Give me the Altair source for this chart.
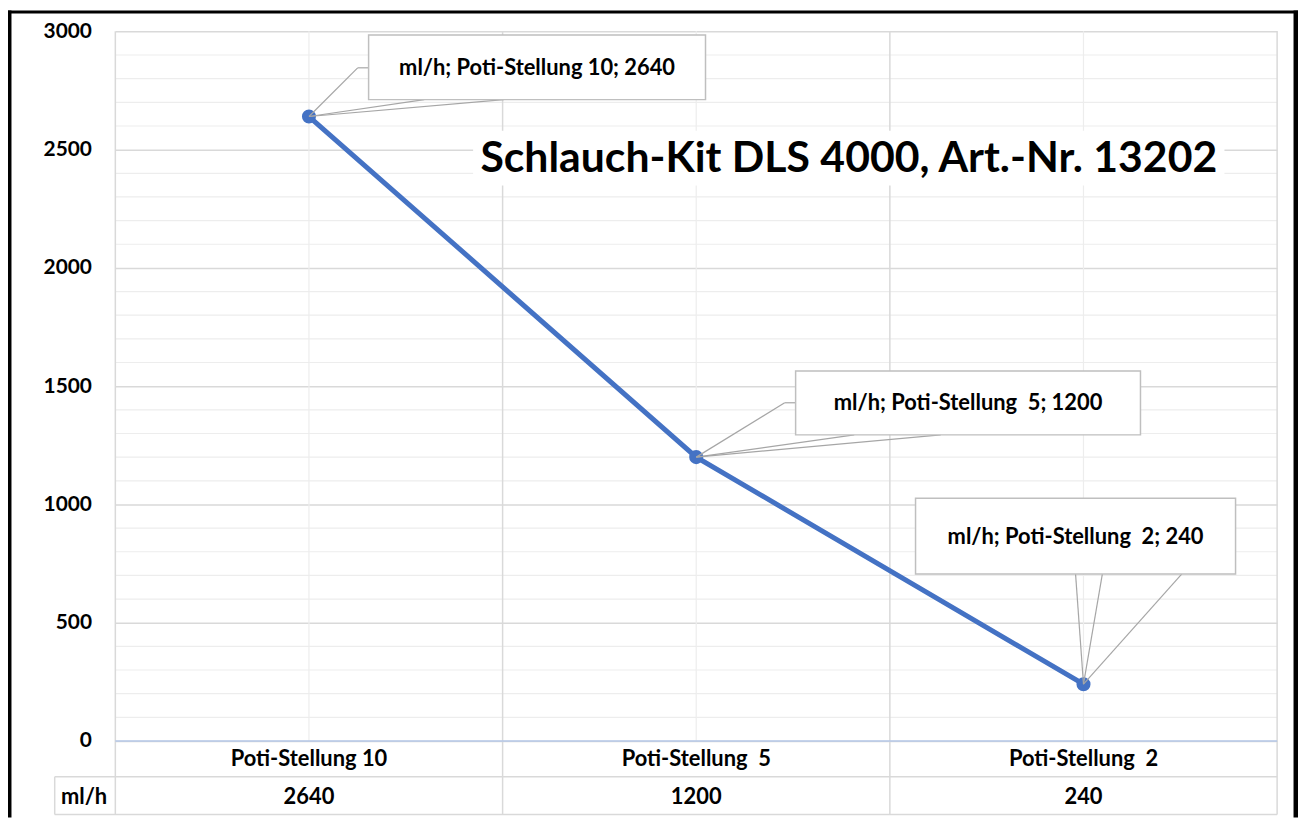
import altair as alt
import pandas as pd

# ---------------- data ----------------
categories = ["Poti-Stellung 10", "Poti-Stellung  5", "Poti-Stellung  2"]
values = [2640, 1200, 240]
row_label = "ml/h"
title_text = "Schlauch-Kit DLS 4000, Art.-Nr. 13202"
y_major = [0, 500, 1000, 1500, 2000, 2500, 3000]
y_minor = [100, 200, 300, 400, 600, 700, 800, 900, 1100, 1200, 1300, 1400,
           1600, 1700, 1800, 1900, 2100, 2200, 2300, 2400, 2600, 2700, 2800, 2900]
band_edges = [-0.5, 0.5, 1.5, 2.5]

def disp(s):
    return s.replace("  ", " \u00a0")

df = pd.DataFrame({
    "idx": list(range(len(categories))),
    "cat": [disp(c) for c in categories],
    "value": values,
    "label": [disp(f"{row_label}; {c}; {v}") for c, v in zip(categories, values)],
})

# ---------------- styles ----------------
W, H = 1169, 714
FONT = "Lato"
BLUE = "#4472C4"
xs = alt.Scale(domain=[-0.5, 2.5], nice=False, zero=False)
ys = alt.Scale(domain=[0, 3000], nice=False, zero=False)
yaxis = alt.Axis(values=y_major, format="d", grid=True, gridColor="#d9d9d9", gridWidth=1.5,
                 domain=False, ticks=False, labelPadding=24, labelFont=FONT,
                 labelFontWeight="bold", labelFontSize=21, labelColor="black", title=None)
X = alt.X("idx:Q", scale=xs, axis=None)
Y = alt.Y("value:Q", scale=ys, axis=yaxis)

layers = []

# minor horizontal grid
layers.append(
    alt.Chart(pd.DataFrame({"value": y_minor})).mark_rule(color="#ededed", strokeWidth=1.2)
    .encode(y=Y, x=alt.value(0), x2=alt.value(W))
)
# center vertical grid
layers.append(
    alt.Chart(df).mark_rule(color="#ededed", strokeWidth=1.2)
    .encode(x=X, y=alt.value(0), y2=alt.value(H))
)
# band boundary lines (extend into table)
layers.append(
    alt.Chart(pd.DataFrame({"idx": band_edges})).mark_rule(color="#d9d9d9", strokeWidth=1.5)
    .encode(x=X, y=alt.value(0), y2=alt.value(788))
)
# table horizontal lines
layers.append(
    alt.Chart(pd.DataFrame({"yy": [750, 788]})).mark_rule(color="#d9d9d9", strokeWidth=1.5)
    .encode(y=alt.Y("yy:Q", scale=None, axis=None), x=alt.value(-61), x2=alt.value(W))
)
# table left cell edge
layers.append(
    alt.Chart(df.head(1)).mark_rule(color="#d9d9d9", strokeWidth=1.5)
    .encode(x=alt.value(-61), y=alt.value(750), y2=alt.value(788))
)
# x axis line (light blue)
layers.append(
    alt.Chart(df.head(1)).mark_rule(color="#b4c7e7", strokeWidth=1.5)
    .encode(x=alt.value(0), x2=alt.value(W), y=alt.value(H))
)

# main line
layers.append(
    alt.Chart(df).mark_line(color=BLUE, strokeWidth=5, strokeCap="round")
    .encode(x=X, y=Y)
)
layers.append(
    alt.Chart(df).mark_circle(color=BLUE, size=200, opacity=1).encode(x=X, y=Y)
)

# table text
layers.append(
    alt.Chart(df).mark_text(font=FONT, fontWeight="bold", fontSize=22, color="black", baseline="middle")
    .encode(x=X, y=alt.value(732), text="cat:N")
)
layers.append(
    alt.Chart(df).mark_text(font=FONT, fontWeight="bold", fontSize=22, color="black", baseline="middle")
    .encode(x=X, y=alt.value(770), text="value:Q")
)
layers.append(
    alt.Chart(df.head(1)).mark_text(font=FONT, fontWeight="bold", fontSize=22, color="black", baseline="middle")
    .encode(x=alt.value(-31.5), y=alt.value(770), text=alt.value(row_label))
)

# callouts: offsets (pixels) relative to each data point
callouts = [
    dict(box=(60, 399, -82, -17), text=(229.5, -49),
         lines=[((0, 0), (116, -17)), ((0, 0), (196, -17)), ((0, 0), (49, -49)), ((49, -49), (60, -49))]),
    dict(box=(100, 447, -86.7, -22.4), text=(273.5, -54),
         lines=[((0, 0), (159, -22.4)), ((0, 0), (246, -22.4)), ((0, 0), (89, -54.7)), ((89, -54.7), (100, -54.7))]),
    dict(box=(-169, 153, -187, -111), text=(-8, -148),
         lines=[((0, 0), (-8, -111)), ((0, 0), (19, -111)), ((0, 0), (99, -111))]),
]
for i, c in enumerate(callouts):
    row = df.iloc[[i]]
    for (a, b) in c["lines"]:
        layers.append(
            alt.Chart(row).mark_rule(color="#a6a6a6", strokeWidth=1.2,
                                     xOffset=a[0], yOffset=a[1], x2Offset=b[0], y2Offset=b[1])
            .encode(x=X, x2="idx:Q", y=Y, y2="value:Q")
        )
    l, r, t, b = c["box"]
    layers.append(
        alt.Chart(row).mark_rect(fill="white", stroke="#bfbfbf", strokeWidth=1.5,
                                 xOffset=l, x2Offset=r, yOffset=t, y2Offset=b)
        .encode(x=X, x2="idx:Q", y=Y, y2="value:Q")
    )
    layers.append(
        alt.Chart(row).mark_text(font=FONT, fontWeight="bold", fontSize=22, color="black",
                                 baseline="middle", align="center",
                                 xOffset=c["text"][0], yOffset=c["text"][1])
        .encode(x=X, y=Y, text="label:N")
    )

# chart title in plot with white background
layers.append(
    alt.Chart(df.head(1)).mark_rect(fill="white")
    .encode(x=alt.value(360), x2=alt.value(1116), y=alt.value(100), y2=alt.value(155))
)
layers.append(
    alt.Chart(df.head(1)).mark_text(font=FONT, fontWeight="bold", fontSize=43, color="black",
                                    baseline="middle", align="center")
    .encode(x=alt.value(738), y=alt.value(128), text=alt.value(title_text))
)

# outer black frame
layers.append(
    alt.Chart(df.head(1)).mark_rule(color="black", strokeWidth=4)
    .encode(x=alt.value(-106.5), y=alt.value(-21), y2=alt.value(791))
)
layers.append(
    alt.Chart(df.head(1)).mark_rule(color="black", strokeWidth=4.5)
    .encode(x=alt.value(1187.75), y=alt.value(-21), y2=alt.value(791))
)
layers.append(
    alt.Chart(df.head(1)).mark_rule(color="black", strokeWidth=3)
    .encode(y=alt.value(-19.5), x=alt.value(-108), x2=alt.value(1190))
)

chart = alt.layer(*layers).properties(
    width=W, height=H,
    autosize=alt.AutoSizeParams(type="none"),
    padding={"left": 108, "top": 21, "right": 21, "bottom": 77},
    background="white",
).configure_view(stroke=None)

chart.save("out.html", embed_options={"renderer": "svg", "actions": False})
